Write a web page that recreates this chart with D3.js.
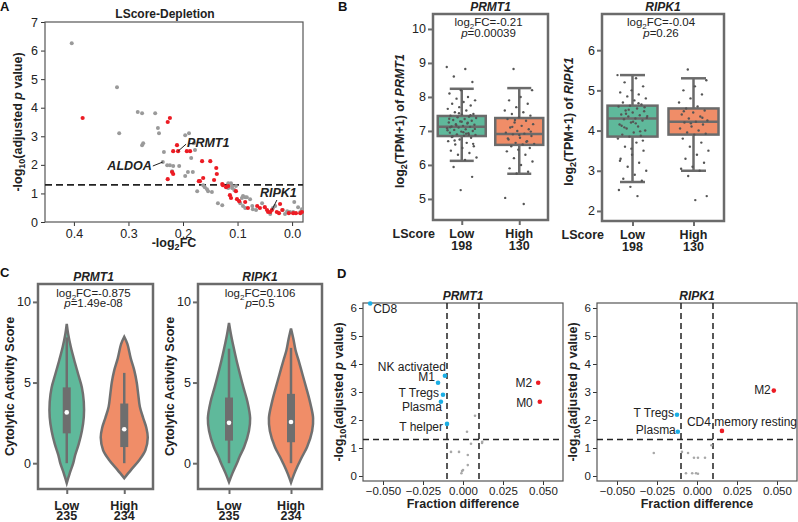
<!DOCTYPE html>
<html><head><meta charset="utf-8">
<script src="https://cdn.jsdelivr.net/npm/d3@7"></script>
<style>body{margin:0;background:#fff}svg{display:block}</style>
</head><body><svg id="c" width="798" height="522"></svg>
<script>
// ================= DATA =================
// Panel A : [-log2FC, -log10 adj p]
const aGrey = [[0.404,6.26],[0.321,4.72],[0.317,3.11],[0.283,3.85],[0.275,3.81],[0.251,3.81],[0.246,3.29],[0.244,3.11],[0.196,3.04],[0.189,3.11],[0.275,2.69],[0.273,2.76],[0.235,2.45],[0.237,2.10],[0.229,1.99],[0.224,1.99],[0.218,1.96],[0.207,1.96],[0.191,1.75],[0.182,1.75],[0.196,1.61],[0.180,2.76],[0.185,2.24],[0.178,2.52],[0.174,1.08],[0.220,1.78],[0.163,1.29],[0.160,1.22],[0.156,1.15],[0.154,1.08],[0.147,1.05],[0.117,1.36],[0.112,1.36],[0.110,1.26],[0.110,1.19],[0.106,1.12],[0.136,0.66],[0.128,0.59],[0.092,0.84],[0.090,0.91],[0.086,0.87],[0.083,0.87],[0.095,0.66],[0.090,0.56],[0.086,0.49],[0.077,0.80],[0.073,0.56],[0.072,0.45],[0.055,0.66],[0.035,0.49],[0.031,0.56],[0.017,0.42],[0.009,0.38],[0.004,0.35],[-0.002,0.35],[-0.004,0.70],[-0.011,0.52],[-0.015,0.35],[-0.018,0.45],[0.117,1.19],[0.103,1.26],[0.066,0.42],[0.040,0.28],[0.013,0.28]];
const aRed = [[0.384,3.64],[0.228,3.50],[0.224,3.64],[0.228,1.50],[0.218,2.48],[0.211,2.69],[0.209,2.48],[0.220,1.75],[0.218,1.68],[0.193,2.48],[0.187,2.48],[0.171,1.43],[0.165,2.13],[0.150,2.13],[0.139,1.89],[0.138,1.68],[0.169,1.43],[0.163,1.54],[0.143,1.47],[0.127,1.29],[0.121,1.22],[0.117,1.26],[0.103,1.08],[0.114,0.94],[0.112,0.84],[0.101,0.80],[0.097,0.73],[0.086,0.70],[0.081,0.49],[0.064,0.56],[0.059,0.49],[0.050,0.52],[0.046,0.42],[0.044,0.35],[0.040,0.35],[0.037,0.42],[0.028,0.35],[0.024,0.31],[0.018,0.42],[0.022,0.63],[0.006,0.31],[-0.002,0.31],[-0.007,0.31],[-0.015,0.31],[-0.018,0.35],[0.128,1.33]];
const aLabelled = [{gene:"PRMT1",fc:0.209,p:2.48},{gene:"ALDOA",fc:0.237,p:2.10},{gene:"RIPK1",fc:0.037,p:0.42}];
const aXTicks = [0.4,0.3,0.2,0.1,0.0];
const aYTicks = [0,1,2,3,4,5,6,7];
const aThreshold = 1.3;

// Panel B : box stats [lowWhisker, q1, median, q3, highWhisker]
const groups = ["Low","High"];
const bCounts = [198,130];
const prmt1BoxLow = [6.12,6.85,7.12,7.44,8.24];
const prmt1BoxHigh = [5.74,6.59,6.91,7.38,8.26];
const ripk1BoxLow = [2.72,3.85,4.30,4.62,5.38];
const ripk1BoxHigh = [3.00,3.90,4.22,4.55,5.30];
const prmt1PtsLow = [8.88,8.82,8.6,8.44,8.2,8.1,8.0,7.95,7.9,7.85,7.8,7.75,7.7,7.65,7.6,7.55,7.5,7.48,7.45,7.42,7.4,7.38,7.35,7.32,7.3,7.28,7.25,7.22,7.2,7.18,7.15,7.13,7.12,7.1,7.08,7.05,7.03,7.0,6.98,6.95,6.93,6.9,6.88,6.86,6.84,6.8,6.75,6.7,6.65,6.6,6.55,6.5,6.42,6.35,6.3,6.22,6.15,5.94,5.65,5.26,7.36,7.24,7.16,7.06,6.96,6.82,7.46,7.52,7.02,6.92,6.72,6.62,7.27,7.11,6.89];
const prmt1PtsHigh = [8.82,8.2,8.0,7.9,7.8,7.7,7.6,7.55,7.5,7.45,7.4,7.35,7.3,7.25,7.2,7.15,7.1,7.05,7.0,6.95,6.92,6.9,6.85,6.8,6.75,6.7,6.65,6.62,6.6,6.55,6.5,6.45,6.4,6.3,6.2,6.1,6.0,5.9,5.8,5.75,5.03,4.85,7.12,6.98,6.88,6.78,6.68,7.32];
const ripk1PtsLow = [5.38,5.3,5.2,5.1,5.0,4.95,4.9,4.85,4.8,4.75,4.7,4.65,4.62,4.6,4.55,4.5,4.48,4.45,4.4,4.38,4.35,4.32,4.3,4.28,4.25,4.2,4.15,4.1,4.05,4.0,3.95,3.9,3.87,3.85,3.8,3.7,3.6,3.5,3.4,3.3,3.2,3.1,3.0,2.9,2.8,2.75,2.6,2.52,2.37,4.42,4.58,4.22,4.12,3.98,4.52,4.36,4.18,4.08,3.75,3.55,3.25,4.68];
const ripk1PtsHigh = [5.52,5.25,5.1,5.0,4.9,4.8,4.7,4.6,4.55,4.5,4.45,4.4,4.35,4.3,4.25,4.22,4.2,4.15,4.1,4.05,4.0,3.95,3.92,3.9,3.8,3.7,3.6,3.5,3.4,3.3,3.2,3.1,3.05,3.0,2.87,2.37,2.27,4.48,4.32,4.18];
const bPrmt1Ticks = [5,6,7,8,9,10];
const bRipk1Ticks = [2,3,4,5,6];

// Panel C : violin profiles [score, relative density]; stats [whiskLow,q1,median,q3,whiskHigh]
const cCounts = [235,234];
const prmt1VioLow = [[8.64,0],[8,.06],[7.2,.17],[6.4,.31],[5.5,.48],[4.7,.63],[3.8,.71],[2.85,.71],[2,.63],[1.2,.5],[0.5,.35],[0,.27],[-0.6,.13],[-1.23,0]];
const prmt1VioHigh = [[7.84,0],[7.4,.13],[6.5,.27],[5.74,.42],[5,.52],[4.3,.58],[3.5,.65],[2.8,.79],[2.2,.92],[1.6,.98],[0.8,.88],[0.2,.63],[-0.4,.29],[-0.93,0]];
const ripk1VioLow = [[8.7,0],[8,.08],[7.2,.19],[6.4,.31],[5.5,.46],[4.7,.6],[3.8,.77],[2.8,.88],[2,.83],[1,.63],[0.4,.44],[0,.33],[-0.6,.15],[-1.17,0]];
const ripk1VioHigh = [[8.35,0],[7.7,.1],[7,.19],[6.4,.31],[5.5,.48],[4.7,.63],[3.8,.79],[2.8,.92],[2,.88],[1,.67],[0.4,.46],[0,.33],[-0.6,.15],[-1.2,0]];
const prmt1VioStatLow = [0,1.85,3.15,4.7,7.8];
const prmt1VioStatHigh = [0,1.0,2.1,3.7,5.6];
const ripk1VioStatLow = [0,1.4,2.5,4.07,7.1];
const ripk1VioStatHigh = [0,1.3,2.55,4.3,7.15];
const cYTicks = [0,5,10];

// Panel D : fraction difference vs -log10 adj p
const dPrmt1Sig = [{name:"CD8",d:-0.058,p:6.16,dir:"down"},{name:"NK activated",d:-0.0113,p:3.58,dir:"down"},{name:"M1",d:-0.0156,p:3.33,dir:"down"},{name:"T Tregs",d:-0.0125,p:2.90,dir:"down"},{name:"Plasma",d:-0.0138,p:2.65,dir:"down"},{name:"T helper",d:-0.010,p:1.86,dir:"down"},{name:"M2",d:0.047,p:3.33,dir:"up"},{name:"M0",d:0.048,p:2.65,dir:"up"}];
const dPrmt1NS = [[0.0075,2.15],[0.0025,1.58],[0.0119,1.18],[0.012,1.22],[0.005,1.15],[-0.0075,0.86],[-0.0025,0.86],[0.003,0.75],[0.003,0.39],[-0.0006,0.18],[0,0.21],[-0.001,0.10]];
const dRipk1Sig = [{name:"M2",d:0.048,p:3.05,dir:"up"},{name:"T Tregs",d:-0.0125,p:2.19,dir:"down"},{name:"Plasma",d:-0.012,p:1.58,dir:"down"},{name:"CD4 memory resting",d:0.0156,p:1.61,dir:"up"}];
const dRipk1NS = [[-0.027,0.82],[-0.0094,0.86],[-0.0056,0.82],[-0.0019,0.65],[0.0006,0.65],[0.005,0.65],[-0.0069,0.10],[-0.003,0.10],[-0.0006,0.10],[0.0006,0.08],[0.009,1.10]];
const dXTicks = [-0.05,-0.025,0,0.025,0.05];
const dYTicks = [0,1,2,3,4,5,6];
const dXThresh = [-0.01,0.01];

// ================= DRAW =================
const FF = '"Liberation Sans", Arial, Helvetica, sans-serif';
const GREEN = "#5fb99b", ORANGE = "#f08d68", FRAME = "#6b6b6b";
const INT = d3.format("d");
const svg = d3.select("#c").attr("font-family", FF);
svg.append("rect").attr("width",798).attr("height",522).attr("fill","#fff");

function styleAxis(g, fs, col, w){
  g.attr("font-family", FF).attr("font-size", fs);
  g.select(".domain").remove();
  g.selectAll(".tick line").attr("stroke", col).attr("stroke-width", w);
  g.selectAll(".tick text").attr("fill", "#222");
}
function richText(sel, parts, subSize){
  parts.forEach(([t, s], i) => {
    const ts = sel.append("tspan").text(t);
    if (s === "sub") ts.attr("font-size", subSize).attr("dy", 3);
    if (s === "it") ts.attr("font-style", "italic");
    if (i > 0 && parts[i-1][1] === "sub") ts.attr("dy", -3);
  });
  return sel;
}
function vLabel(x, y, parts, fs){
  const t = svg.append("text").attr("transform", `translate(${x},${y}) rotate(-90)`)
    .attr("text-anchor","middle").attr("font-size",fs).attr("font-weight","bold").attr("fill","#222");
  richText(t, parts, fs*0.72);
}
function letter(ch, x, y){
  svg.append("text").attr("x",x).attr("y",y).attr("font-size",13).attr("font-weight","bold").attr("fill","#111").text(ch);
}
letter("A",0,11); letter("B",338,11); letter("C",0,277); letter("D",337,278);

// ---------- Panel A ----------
(function(){
  const L=45,R=303,T=22,B=222;
  const x = d3.scaleLinear().domain([0.453,-0.02]).range([L,R]);
  const y = d3.scaleLinear().domain([0,7]).range([B,T]);
  const g = svg.append("g");
  const gx = g.append("g").attr("transform",`translate(0,${B})`)
    .call(d3.axisBottom(x).tickValues(aXTicks).tickFormat(d3.format(".1f")).tickSize(4).tickPadding(3));
  styleAxis(gx, 12.5, "#333", 1);
  const gy = g.append("g").attr("transform",`translate(${L},0)`)
    .call(d3.axisLeft(y).tickValues(aYTicks).tickFormat(INT).tickSize(4).tickPadding(3));
  styleAxis(gy, 12.5, "#333", 1);
  g.append("rect").attr("x",L).attr("y",T).attr("width",R-L).attr("height",B-T)
    .attr("fill","none").attr("stroke","#555").attr("stroke-width",1.2);
  g.append("line").attr("x1",L).attr("x2",R).attr("y1",y(aThreshold)).attr("y2",y(aThreshold))
    .attr("stroke","#222").attr("stroke-width",1.6).attr("stroke-dasharray","7,4");
  g.selectAll(".ag").data(aGrey).join("circle").attr("cx",d=>x(d[0])).attr("cy",d=>y(d[1])).attr("r",2).attr("fill","#9a9a9a");
  g.selectAll(".ar").data(aRed).join("circle").attr("cx",d=>x(d[0])).attr("cy",d=>y(d[1])).attr("r",2.1).attr("fill","#ec1c24");
  const lay = {PRMT1:{lx:8,ly:-7,tx:9,ty:-4,anchor:"start"}, ALDOA:{lx:-10,ly:4,tx:-11,ty:8,anchor:"end"}, RIPK1:{lx:5,ly:-10,tx:-12,ty:-13,anchor:"start"}};
  aLabelled.forEach(d=>{
    const o = lay[d.gene], px=x(d.fc), py=y(d.p);
    g.append("line").attr("x1",px).attr("y1",py).attr("x2",px+o.lx).attr("y2",py+o.ly).attr("stroke","#222").attr("stroke-width",1);
    g.append("text").attr("x",px+o.tx).attr("y",py+o.ty).attr("text-anchor",o.anchor)
      .attr("font-size",12.5).attr("font-weight","bold").attr("font-style","italic").attr("fill","#222").text(d.gene);
  });
  g.append("text").attr("x",165).attr("y",18).attr("text-anchor","middle").attr("font-size",12).attr("font-weight","bold").attr("fill","#222").text("LScore-Depletion");
  const xl = g.append("text").attr("x",174).attr("y",247).attr("text-anchor","middle").attr("font-size",12.5).attr("font-weight","bold").attr("fill","#222");
  richText(xl, [["-log"],["2","sub"],["FC"]], 9);
  vLabel(22, (T+B)/2, [["-log"],["10","sub"],["(adjusted "],["p","it"],[" value)"]], 12.5);
})();

// ---------- Panel B ----------
function boxPanel(o){
  const x = d3.scalePoint().domain(groups).range([o.L,o.R]).padding(0.5);
  const y = d3.scaleLinear().domain(o.yDom).range([o.B,o.T]);
  const g = svg.append("g");
  const gy = g.append("g").attr("transform",`translate(${o.L},0)`).call(d3.axisLeft(y).tickValues(o.ticks).tickFormat(INT).tickSize(5).tickPadding(2));
  styleAxis(gy, 12.5, FRAME, 2);
  const gx = g.append("g").attr("transform",`translate(0,${o.B})`).call(d3.axisBottom(x).tickSize(5).tickFormat(""));
  styleAxis(gx, 12.5, FRAME, 2);
  const bw = o.bw;
  o.stats.forEach((s,i)=>{
    const cx = x(groups[i]), col = i===0?GREEN:ORANGE;
    g.append("line").attr("x1",cx).attr("x2",cx).attr("y1",y(s[0])).attr("y2",y(s[4])).attr("stroke",FRAME).attr("stroke-width",2.5);
    [s[0],s[4]].forEach(v=>g.append("line").attr("x1",cx-bw/4).attr("x2",cx+bw/4).attr("y1",y(v)).attr("y2",y(v)).attr("stroke",FRAME).attr("stroke-width",2.5));
    g.append("rect").attr("x",cx-bw/2).attr("width",bw).attr("y",y(s[3])).attr("height",y(s[1])-y(s[3]))
      .attr("fill",col).attr("stroke",FRAME).attr("stroke-width",2.5);
    g.append("line").attr("x1",cx-bw/2).attr("x2",cx+bw/2).attr("y1",y(s[2])).attr("y2",y(s[2])).attr("stroke",FRAME).attr("stroke-width",2.5);
    g.selectAll(null).data(o.pts[i]).join("circle")
      .attr("cx",(d,j)=>cx + (((j*0.6180339887+0.31*i)%1)-0.5)*30)
      .attr("cy",d=>y(d)).attr("r",1.2).attr("fill","#555");
    g.append("text").attr("x",cx).attr("y",o.B+18).attr("text-anchor","middle").attr("font-size",12.5).attr("font-weight","bold").attr("fill","#222").text(groups[i]);
    g.append("text").attr("x",cx).attr("y",o.B+30).attr("text-anchor","middle").attr("font-size",12.5).attr("font-weight","bold").attr("fill","#222").text(bCounts[i]);
  });
  g.append("rect").attr("x",o.L).attr("y",o.T).attr("width",o.R-o.L).attr("height",o.B-o.T).attr("fill","none").attr("stroke",FRAME).attr("stroke-width",2.5);
  const cxm = (o.L+o.R)/2;
  g.append("text").attr("x",cxm).attr("y",o.T-3).attr("text-anchor","middle").attr("font-size",12).attr("font-weight","bold").attr("font-style","italic").attr("fill","#222").text(o.gene);
  const t1 = g.append("text").attr("x",cxm-2).attr("y",o.T+12).attr("text-anchor","middle").attr("font-size",11.5).attr("fill","#222");
  richText(t1, [["log"],["2","sub"],["FC="+o.fc]], 8);
  const t2 = g.append("text").attr("x",cxm-2).attr("y",o.T+22.5).attr("text-anchor","middle").attr("font-size",11.5).attr("fill","#222");
  richText(t2, [["p","it"],["="+o.p]], 11.5);
  g.append("text").attr("x",o.L+2).attr("y",o.B+18).attr("text-anchor","end").attr("font-size",12.5).attr("font-weight","bold").attr("fill","#222").text("LScore");
  vLabel(o.L-29, (o.T+o.B)/2+4, [["log"],["2","sub"],["(TPM+1) of "],[o.gene,"it"]], 12.5);
}
boxPanel({L:433,R:548,T:14,B:220,yDom:[4.38,10.44],ticks:bPrmt1Ticks,bw:48,stats:[prmt1BoxLow,prmt1BoxHigh],pts:[prmt1PtsLow,prmt1PtsHigh],gene:"PRMT1",fc:"-0.21",p:"0.00039"});
boxPanel({L:602,R:724,T:14,B:221,yDom:[1.75,6.9],ticks:bRipk1Ticks,bw:50,stats:[ripk1BoxLow,ripk1BoxHigh],pts:[ripk1PtsLow,ripk1PtsHigh],gene:"RIPK1",fc:"-0.04",p:"0.26"});

// ---------- Panel C ----------
function violinPanel(o){
  const x = d3.scalePoint().domain(groups).range([o.L,o.R]).padding(0.5);
  const y = d3.scaleLinear().domain([-1.6,11.11]).range([o.B,o.T]);
  const w = d3.scaleLinear().domain([0,1]).range([0,24]);
  const g = svg.append("g");
  const gy = g.append("g").attr("transform",`translate(${o.L},0)`).call(d3.axisLeft(y).tickValues(cYTicks).tickFormat(INT).tickSize(5).tickPadding(2));
  styleAxis(gy, 12.5, FRAME, 2);
  const gx = g.append("g").attr("transform",`translate(0,${o.B})`).call(d3.axisBottom(x).tickSize(5).tickFormat(""));
  styleAxis(gx, 12.5, FRAME, 2);
  o.vio.forEach((prof,i)=>{
    const cx = x(groups[i]), s = o.stats[i];
    const area = d3.area().curve(d3.curveCatmullRom.alpha(0.5)).y(d=>y(d[0])).x0(d=>cx-w(d[1])).x1(d=>cx+w(d[1]));
    g.append("path").attr("d",area(prof)).attr("fill",i===0?GREEN:ORANGE).attr("stroke","#707070").attr("stroke-width",2.5);
    g.append("line").attr("x1",cx).attr("x2",cx).attr("y1",y(s[0])).attr("y2",y(s[4])).attr("stroke","#6e6e6e").attr("stroke-width",2.5);
    g.append("line").attr("x1",cx).attr("x2",cx).attr("y1",y(s[1])).attr("y2",y(s[3])).attr("stroke","#6e6e6e").attr("stroke-width",8);
    g.append("circle").attr("cx",cx).attr("cy",y(s[2])).attr("r",2.3).attr("fill","#fff");
    g.append("text").attr("x",cx).attr("y",o.B+21).attr("text-anchor","middle").attr("font-size",12.5).attr("font-weight","bold").attr("fill","#222").text(groups[i]);
    g.append("text").attr("x",cx).attr("y",o.B+31).attr("text-anchor","middle").attr("font-size",12.5).attr("font-weight","bold").attr("fill","#222").text(cCounts[i]);
  });
  g.append("rect").attr("x",o.L).attr("y",o.T).attr("width",o.R-o.L).attr("height",o.B-o.T).attr("fill","none").attr("stroke",FRAME).attr("stroke-width",2.5);
  const cxm = (o.L+o.R)/2 + o.shift;
  g.append("text").attr("x",cxm).attr("y",o.T-3).attr("text-anchor","middle").attr("font-size",12).attr("font-weight","bold").attr("font-style","italic").attr("fill","#222").text(o.gene);
  const t1 = g.append("text").attr("x",cxm).attr("y",o.T+12.5).attr("text-anchor","middle").attr("font-size",11.5).attr("fill","#222");
  richText(t1, [["log"],["2","sub"],["FC="+o.fc]], 8);
  const t2 = g.append("text").attr("x",cxm).attr("y",o.T+22.5).attr("text-anchor","middle").attr("font-size",11.5).attr("fill","#222");
  richText(t2, [["p","it"],["="+o.p]], 11.5);
  vLabel(o.L-24, (o.T+o.B)/2, [["Cytolytic Activity Score"]], 12.5);
}
violinPanel({L:38,R:153,T:284,B:489,vio:[prmt1VioLow,prmt1VioHigh],stats:[prmt1VioStatLow,prmt1VioStatHigh],gene:"PRMT1",fc:"-0.875",p:"1.49e-08",shift:-2});
violinPanel({L:198,R:322,T:284,B:489,vio:[ripk1VioLow,ripk1VioHigh],stats:[ripk1VioStatLow,ripk1VioStatHigh],gene:"RIPK1",fc:"0.106",p:"0.5",shift:0});

// ---------- Panel D ----------
function fracPanel(o){
  const x = d3.scaleLinear().domain([-0.0625,0.0625]).range([o.L,o.R]);
  const y = d3.scaleLinear().domain([0,6]).range([476,308]);
  const g = svg.append("g");
  const gx = g.append("g").attr("transform",`translate(0,${o.B})`).call(d3.axisBottom(x).tickValues(dXTicks).tickFormat(d3.format(".3f")).tickSize(4).tickPadding(2));
  styleAxis(gx, 11.5, "#333", 1);
  const gy = g.append("g").attr("transform",`translate(${o.L},0)`).call(d3.axisLeft(y).tickValues(dYTicks).tickFormat(INT).tickSize(4).tickPadding(2));
  styleAxis(gy, 11.5, "#333", 1);
  g.append("rect").attr("x",o.L).attr("y",o.T).attr("width",o.R-o.L).attr("height",o.B-o.T).attr("fill","none").attr("stroke","#555").attr("stroke-width",1.2);
  dXThresh.forEach(v=>g.append("line").attr("x1",x(v)).attr("x2",x(v)).attr("y1",o.T).attr("y2",o.B).attr("stroke","#222").attr("stroke-width",1.5).attr("stroke-dasharray","6,4"));
  g.append("line").attr("x1",o.L).attr("x2",o.R).attr("y1",y(1.3)).attr("y2",y(1.3)).attr("stroke","#222").attr("stroke-width",1.5).attr("stroke-dasharray","6,4");
  g.selectAll(null).data(o.ns).join("circle").attr("cx",d=>x(d[0])).attr("cy",d=>y(d[1])).attr("r",1.3).attr("fill","#a8a8a8");
  o.sig.forEach(d=>{
    const px=x(d.d), py=y(d.p), l=o.lay[d.name];
    g.append("circle").attr("cx",px).attr("cy",py).attr("r",2.3).attr("fill",d.dir==="up"?"#ec1c24":"#1aaee5");
    g.append("text").attr("x",px+l[0]).attr("y",py+l[1]).attr("text-anchor",l[2]).attr("font-size",12).attr("fill","#222").text(d.name);
  });
  const cxm=(o.L+o.R)/2;
  g.append("text").attr("x",cxm).attr("y",o.T-3).attr("text-anchor","middle").attr("font-size",12).attr("font-weight","bold").attr("font-style","italic").attr("fill","#222").text(o.gene);
  g.append("text").attr("x",cxm).attr("y",508).attr("text-anchor","middle").attr("font-size",12.5).attr("font-weight","bold").attr("fill","#222").text("Fraction difference");
  vLabel(o.L-20, (o.T+o.B)/2, [["-log"],["10","sub"],["(adjusted "],["p","it"],[" value)"]], 12.5);
}
fracPanel({L:363,R:563,T:303,B:481,sig:dPrmt1Sig,ns:dPrmt1NS,gene:"PRMT1",
  lay:{"CD8":[3,9,"start"],"NK activated":[1,-5,"end"],"M1":[-3,-2,"end"],"T Tregs":[-4,2,"end"],"Plasma":[1,9,"end"],"T helper":[-4,7,"end"],"M2":[-6,4,"end"],"M0":[-7,5,"end"]}});
fracPanel({L:597,R:797,T:303,B:481,sig:dRipk1Sig,ns:dRipk1NS,gene:"RIPK1",
  lay:{"M2":[-3,3,"end"],"T Tregs":[-3,2,"end"],"Plasma":[-2,2,"end"],"CD4 memory resting":[-35,-5,"start"]}});
</script></body></html>
